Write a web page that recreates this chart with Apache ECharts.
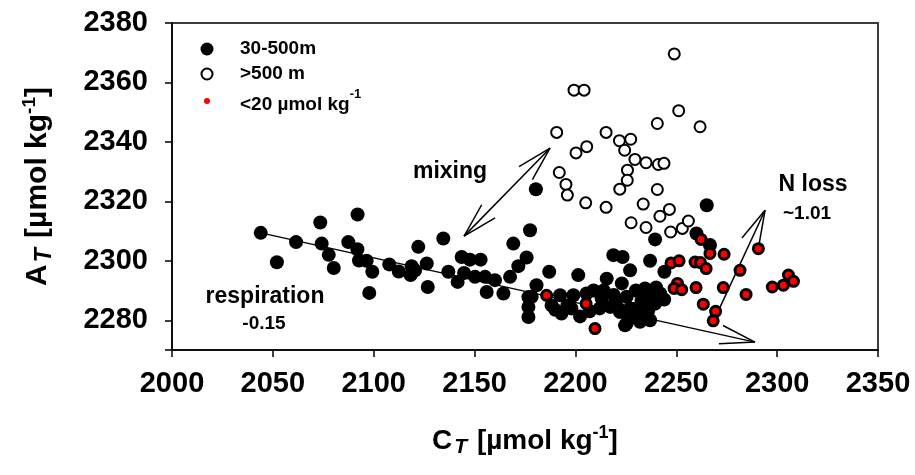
<!DOCTYPE html>
<html>
<head>
<meta charset="utf-8">
<script src="https://cdn.jsdelivr.net/npm/echarts@6/dist/echarts.min.js"></script>
<style>
  html, body { margin: 0; padding: 0; background: #fff; }
  #chart { width: 915px; height: 475px; }
</style>
</head>
<body>
<div id="chart"></div>
<script>
// Samples from 30-500 m depth: [C_T, A_T]
const shallow = [
  [2044, 2309.4], [2052, 2299.5], [2061.5, 2306.3], [2073.5, 2312.9], [2074.2, 2305.8],
  [2077.7, 2302], [2080.2, 2297.6], [2092, 2315.6], [2087.4, 2306.3], [2091.9, 2303.9],
  [2092.7, 2300.1], [2096.5, 2300], [2099.3, 2296.3], [2097.8, 2289.2], [2107.7, 2298.8],
  [2112.4, 2296.4], [2118.8, 2298.2], [2118.3, 2295.2], [2120.5, 2296.8], [2122.1, 2304.7],
  [2126.3, 2299.1], [2126.8, 2291.2], [2134.5, 2307.5], [2137, 2296.3], [2141.6, 2292.9],
  [2143.6, 2301.3], [2147.7, 2300.4], [2153, 2300.4], [2144.8, 2295.9], [2150.2, 2294.6],
  [2155.2, 2294.6], [2156, 2289.5], [2160.1, 2293.5], [2164.3, 2289], [2167.6, 2294.6],
  [2171.7, 2298.2], [2169.2, 2305.8], [2175.8, 2301.1], [2177.5, 2310.3], [2176.7, 2287.8],
  [2176.7, 2284.5], [2176.7, 2281.1], [2180.4, 2324.1], [2180.7, 2291.8], [2187, 2296.3],
  [2178.3, 2287.9], [2192.4, 2288.4], [2188.2, 2285], [2193.1, 2282.3], [2199, 2288.4],
  [2201.4, 2295.2], [2205.5, 2289], [2202.3, 2281.3], [2213, 2287.3], [2215.5, 2294],
  [2218.8, 2301.9], [2223.4, 2301.3], [2223, 2292.4], [2227.1, 2296.8], [2217.2, 2284.5],
  [2222.1, 2282.8], [2225.4, 2278.9], [2221.4, 2283.9], [2224.6, 2278.3], [2225.4, 2287.9],
  [2229.5, 2283.9], [2234.5, 2290.7], [2237, 2288.4], [2239.5, 2285.6], [2237, 2280],
  [2237, 2300], [2239.5, 2307.2], [2244.1, 2296.3], [2232.8, 2286.7], [2231.1, 2282.8],
  [2265.1, 2318.7], [2260, 2309.2], [2266.7, 2305.3], [2212, 2284], [2219, 2288.5],
  [2230, 2290], [2234, 2285], [2227, 2284], [2242, 2289], [2196, 2285], [2209, 2290],
  [2190, 2283.5], [2198, 2284], [2207, 2283], [2214, 2290], [2220, 2286], [2232, 2279.5],
  [2244, 2287], [2240, 2291], [2228, 2281], [2236, 2283]
];

// Samples below 500 m: [C_T, A_T]
const deep = [
  [2249, 2369.6], [2199.3, 2357.4], [2204.3, 2357.4], [2190.7, 2343.2], [2215.2, 2343.2],
  [2205.6, 2338.4], [2200.3, 2336.3], [2221.8, 2340.4], [2227.4, 2340.9], [2224.4, 2337.2],
  [2229.5, 2334.1], [2235, 2333], [2241.1, 2332.4], [2243.9, 2332.8], [2240.6, 2346.2],
  [2251.2, 2350.5], [2261.8, 2345.1], [2192, 2329.7], [2225.8, 2330.5], [2195.3, 2325.7],
  [2196, 2322.1], [2205.1, 2319.5], [2215.2, 2318], [2225.7, 2327.1], [2222, 2324.1],
  [2240.6, 2324], [2233.6, 2319.1], [2246.6, 2317.3], [2241.9, 2315], [2227.6, 2312.8],
  [2235, 2311.2], [2247.2, 2309.7], [2253, 2310.9], [2256, 2313.4]
];

// Samples with oxygen below 20 µmol kg-1: [C_T, A_T]
const lowOxygen = [
  [2185.7, 2288.4], [2205.3, 2285.6], [2209.7, 2277.2], [2262.3, 2307.2], [2266.7, 2302.5],
  [2273.7, 2302.2], [2290.7, 2304.1], [2247.4, 2299.3], [2251.4, 2300], [2259.3, 2299.6],
  [2262, 2299.4], [2264.8, 2297.4], [2281.6, 2296.8], [2250.6, 2292.4], [2248.9, 2290.7],
  [2252.7, 2290.3], [2259.8, 2291], [2273.3, 2291], [2284.6, 2288.7], [2263.4, 2285.4],
  [2269.5, 2283], [2268.3, 2279.8], [2297.6, 2291.2], [2303.1, 2291.8], [2305.6, 2295.2],
  [2308.1, 2293.1]
];

// Axis ticks
const xTicks = [2000, 2050, 2100, 2150, 2200, 2250, 2300, 2350];
const yTicks = [2280, 2300, 2320, 2340, 2360, 2380];

// Respiration trend: start point, slope and end C_T
const respStart = [2044, 2309.4];
const respSlope = -0.15;
const respEndX = 2289;

// Process arrows: [x1, y1, x2, y2, head at start, head at end]
const mixingArrow = [2144.8, 2308.3, 2187.4, 2337.9, 1, 1];
const nLossArrow = [2268.2, 2279.3, 2294, 2317, 0, 1];
const respArrow = [respStart[0], respStart[1], respEndX,
  respStart[1] + respSlope * (respEndX - respStart[0]), 0, 1];

const FONT = 'Liberation Sans, Arial, Helvetica, sans-serif';

const chart = echarts.init(document.getElementById('chart'));

function renderArrow(params, api) {
  const p1 = api.coord([api.value(0), api.value(1)]);
  const p2 = api.coord([api.value(2), api.value(3)]);
  const style = { stroke: '#000', lineWidth: 1.5 };
  const children = [{
    type: 'line', shape: { x1: p1[0], y1: p1[1], x2: p2[0], y2: p2[1] }, style
  }];
  const headLen = 36, spread = 15 * Math.PI / 180;
  function head(tip, tail) {
    const ang = Math.atan2(tail[1] - tip[1], tail[0] - tip[0]);
    [-spread, spread].forEach(function (d) {
      children.push({
        type: 'line',
        shape: {
          x1: tip[0], y1: tip[1],
          x2: tip[0] + headLen * Math.cos(ang + d),
          y2: tip[1] + headLen * Math.sin(ang + d)
        },
        style
      });
    });
  }
  if (api.value(4)) head(p1, p2);
  if (api.value(5)) head(p2, p1);
  return { type: 'group', children };
}

function titleRich(size) {
  const lh = size + 6;
  return {
    m: { fontSize: size, fontWeight: 'bold', fontFamily: FONT, color: '#000', lineHeight: lh, verticalAlign: 'middle' },
    s: { fontSize: Math.round(size * 0.75), fontWeight: 'bold', fontStyle: 'italic', fontFamily: FONT, color: '#000', lineHeight: lh, verticalAlign: 'bottom', padding: [0, 2, 0, 2] },
    p: { fontSize: Math.round(size * 0.64), fontWeight: 'bold', fontFamily: FONT, color: '#000', lineHeight: lh, verticalAlign: 'top' }
  };
}

function txt(x, y, text, size) {
  return {
    type: 'text', x: x, y: y, z: 100,
    style: { text: text, font: 'bold ' + size + 'px ' + FONT, fill: '#000', align: 'center', verticalAlign: 'middle' }
  };
}

const plainNumber = function (v) { return String(v); };

const option = {
  animation: false,
  backgroundColor: '#fff',
  textStyle: { fontFamily: FONT },
  grid: { left: 172, right: 37, top: 23, bottom: 125, show: true, borderColor: '#3c3c3c', borderWidth: 2, backgroundColor: 'transparent' },
  xAxis: {
    type: 'value', min: 2000, max: 2350, interval: 50,
    axisLine: { show: true, onZero: false, lineStyle: { color: '#000', width: 1.5 } },
    axisTick: { show: true, inside: false, length: 7, lineStyle: { color: '#000', width: 1.5 }, customValues: xTicks },
    axisLabel: { fontSize: 29, fontWeight: 'bold', color: '#000', margin: 19, fontFamily: FONT, customValues: xTicks, formatter: plainNumber },
    splitLine: { show: false },
    name: '{m|C}{s|T}{m| [µmol kg}{p|-1}{m|]}',
    nameLocation: 'middle', nameGap: 74,
    nameTextStyle: { rich: titleRich(28) }
  },
  yAxis: {
    type: 'value', min: 2270, max: 2380,
    axisLine: { show: true, onZero: false, lineStyle: { color: '#000', width: 1.5 } },
    axisTick: { show: true, inside: false, length: 7, lineStyle: { color: '#000', width: 1.5 }, customValues: [2270].concat(yTicks) },
    axisLabel: { fontSize: 29, fontWeight: 'bold', color: '#000', margin: 24, fontFamily: FONT, customValues: yTicks, formatter: plainNumber },
    splitLine: { show: false },
    name: '{m|A}{s|T}{m| [µmol kg}{p|-1}{m|]}',
    nameLocation: 'middle', nameGap: 116, nameRotate: 90,
    nameTextStyle: { rich: titleRich(30) }
  },
  series: [
    {
      type: 'custom', renderItem: renderArrow, z: 1, silent: true,
      data: [respArrow, mixingArrow, nLossArrow],
      encode: { x: [0, 2], y: [1, 3] }
    },
    {
      name: '30-500m', type: 'scatter', data: shallow, z: 2,
      symbol: 'circle', symbolSize: 14,
      itemStyle: { color: '#000', opacity: 1 }
    },
    {
      name: '>500 m', type: 'scatter', data: deep, z: 3,
      symbol: 'circle', symbolSize: 11,
      itemStyle: { color: '#fff', borderColor: '#000', borderWidth: 2, opacity: 1 }
    },
    {
      name: '<20 µmol kg-1', type: 'scatter', data: lowOxygen, z: 4,
      symbol: 'circle', symbolSize: 10,
      itemStyle: { color: '#ff0000', borderColor: '#000', borderWidth: 3, opacity: 1 }
    }
  ],
  graphic: [
    // legend
    { type: 'circle', shape: { cx: 207, cy: 49, r: 6.5 }, style: { fill: '#000' }, z: 100 },
    { type: 'circle', shape: { cx: 207, cy: 74, r: 5.5 }, style: { fill: '#fff', stroke: '#000', lineWidth: 2 }, z: 100 },
    { type: 'circle', shape: { cx: 207, cy: 101, r: 3 }, style: { fill: '#ff0000' }, z: 100 },
    { type: 'text', x: 240, y: 49, z: 100, style: { text: '30-500m', font: 'bold 19px ' + FONT, fill: '#000', verticalAlign: 'middle' } },
    { type: 'text', x: 240, y: 74, z: 100, style: { text: '>500 m', font: 'bold 19px ' + FONT, fill: '#000', verticalAlign: 'middle' } },
    { type: 'text', x: 240, y: 101, z: 100, style: {
        text: '{a|<20 µmol kg}{b|-1}', verticalAlign: 'middle',
        rich: {
          a: { font: 'bold 19px ' + FONT, fill: '#000', lineHeight: 26, verticalAlign: 'bottom' },
          b: { font: 'bold 13px ' + FONT, fill: '#000', lineHeight: 26, verticalAlign: 'top' }
        }
      } },
    // process labels
    txt(450, 172, 'mixing', 23),
    txt(265, 297, 'respiration', 23),
    txt(264, 324, '-0.15', 19),
    txt(813, 185, 'N loss', 23),
    txt(807, 214, '~1.01', 19)
  ]
};

chart.setOption(option);
</script>
</body>
</html>
